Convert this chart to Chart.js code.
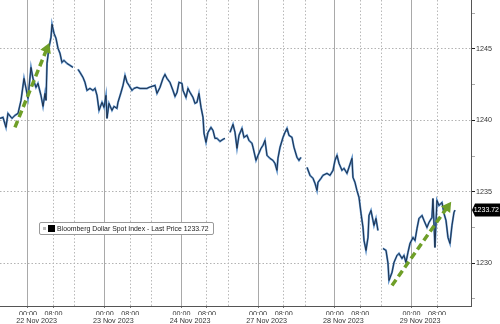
<!DOCTYPE html>
<html>
<head>
<meta charset="utf-8">
<script src="https://cdn.jsdelivr.net/npm/chart.js@4.4.1/dist/chart.umd.min.js"></script>
<style>
  html, body { margin: 0; padding: 0; background: #ffffff; }
  #wrap { position: relative; width: 500px; height: 324px; }
  #legend {
    position: absolute; left: 39px; top: 222px; width: 175px; height: 13px;
    border: 1px solid #9a9a9a; border-radius: 2px; background: #ffffff;
    font-family: "Liberation Sans", Arial, sans-serif; font-size: 6.9px; color: #222;
    line-height: 12px; white-space: nowrap; box-sizing: border-box;
  }
  #legend .g { position: absolute; left: 3px; top: 4px; width: 3px; height: 3px; background: #b8b8b8; }
  #legend .b { position: absolute; left: 8px; top: 2px; width: 7px; height: 7px; background: #000; }
  #legend .t { position: absolute; left: 17px; top: 0px; }
</style>
</head>
<body>
<div id="wrap">
  <canvas id="c" width="500" height="324"></canvas>
  <div id="legend"><span class="g"></span><span class="b"></span><span class="t" id="legendText"></span></div>
</div>
<script>
// ---- Data (x = trading-day index: 0=22 Nov, 1=23 Nov, 2=24 Nov, 3=27 Nov, 4=28 Nov, 5=29 Nov; fraction = time of day) ----
const dayLabels = ['22 Nov 2023', '23 Nov 2023', '24 Nov 2023', '27 Nov 2023', '28 Nov 2023', '29 Nov 2023'];
const hourTickLabels = ['00:00', '08:00'];
const hourTickHours = [0, 8];
const sessionBreakHour = 14.7;
const yTickLabels = ['1230', '1235', '1240', '1245'];
const seriesName = 'Bloomberg Dollar Spot Index - Last Price';
const lastPrice = 1233.72;

const seriesX = [
  -0.365,-0.326,-0.287,-0.261,-0.209,-0.169,-0.130,-0.091,-0.052,-0.026,0.000,0.039,0.065,0.104,0.130,0.169,0.196,0.222,0.235,0.248,
  0.274,0.300,0.313,0.339,0.365,0.391,0.417,0.443,0.469,0.508,0.548,0.587,0.620,0.652,0.678,0.717,0.743,0.769,0.808,0.847,
  0.874,0.900,0.926,0.965,0.991,1.017,1.030,1.056,1.095,1.121,1.160,1.173,1.213,1.239,1.265,1.291,1.317,1.356,1.382,1.421,
  1.460,1.499,1.551,1.578,1.617,1.656,1.682,1.721,1.760,1.786,1.812,1.851,1.890,1.917,1.943,1.969,2.008,2.021,2.060,2.086,
  2.112,2.151,2.177,2.203,2.229,2.256,2.282,2.295,2.321,2.347,2.386,2.412,2.438,2.464,2.503,2.542,2.568,2.600,2.634,2.673,
  2.699,2.725,2.751,2.790,2.816,2.855,2.881,2.920,2.934,2.973,2.999,3.038,3.064,3.090,3.116,3.155,3.194,3.220,3.246,3.259,
  3.286,3.325,3.351,3.377,3.403,3.442,3.468,3.507,3.533,3.559,3.600,3.638,3.677,3.716,3.742,3.768,3.781,3.820,3.846,3.898,
  3.938,3.977,4.003,4.029,4.055,4.094,4.120,4.159,4.185,4.224,4.237,4.263,4.289,4.316,4.342,4.368,4.381,4.407,4.433,4.446,
  4.472,4.498,4.511,4.537,4.563,4.600,4.628,4.668,4.694,4.707,4.746,4.772,4.811,4.837,4.876,4.902,4.928,4.954,4.981,5.020,
  5.046,5.072,5.098,5.137,5.163,5.202,5.228,5.267,5.280,5.306,5.332,5.358,5.398,5.424,5.450,5.476,5.502,5.528,5.554,5.567
];
const seriesY = [
  1240.14,1240.21,1239.51,1240.49,1240.14,1240.35,1240.49,1241.40,1242.94,1242.24,1241.54,1243.71,1242.94,1242.31,1242.59,1241.75,1240.98,1241.89,1241.40,1243.99,
  1245.12,1245.82,1246.73,1246.10,1245.75,1245.05,1244.70,1244.06,1244.20,1243.99,1243.85,1243.71,null,1243.57,1243.36,1243.01,1242.66,1242.10,1242.24,1242.10,
  1242.24,1241.75,1240.70,1241.26,1240.91,1241.75,1240.14,1241.19,1240.70,1240.98,1240.84,1241.26,1241.96,1242.45,1243.15,1242.66,1242.45,1242.10,1242.24,1242.31,
  1242.24,1242.24,1242.24,1242.31,1242.38,1242.45,1241.89,1242.31,1242.94,1243.22,1242.94,1242.66,1242.10,1241.68,1241.96,1242.66,1242.59,1242.10,1241.61,1242.24,
  1241.96,1241.61,1241.19,1241.26,1241.89,1240.91,1240.21,1239.09,1238.46,1239.16,1239.51,1239.30,1238.74,1238.74,1238.53,1238.67,1238.74,null,1239.16,1239.72,
  1239.16,1238.04,1238.95,1239.44,1238.81,1238.95,1238.60,1238.39,1238.11,1237.20,1237.55,1238.04,1238.25,1238.60,1237.55,1237.34,1237.20,1236.99,1236.50,1237.34,
  1238.11,1238.81,1239.16,1239.44,1238.95,1238.81,1238.11,1237.41,1237.20,1237.41,null,1236.71,1236.15,1235.94,1235.59,1235.09,1235.66,1235.94,1236.15,1236.29,
  1236.15,1236.50,1237.20,1237.55,1236.99,1236.50,1236.64,1236.29,1236.71,1237.34,1236.01,1235.66,1235.09,1234.60,1233.48,1232.50,1231.59,1230.89,1231.80,1233.34,
  1233.69,1232.99,1232.64,1233.13,1232.29,null,1231.03,1230.89,1229.98,1228.79,1229.35,1230.05,1230.54,1230.68,1230.33,1230.54,1230.05,1230.75,1231.38,1231.80,
  1231.59,1232.43,1233.13,1233.34,1232.99,1232.50,1232.85,1233.20,1234.53,1231.10,1234.39,1234.04,1234.25,1233.48,1232.99,1231.80,1231.38,1232.64,1233.55,1233.72
];

// Green trend arrows (start, end)
const arrow1X = [-0.170, 0.245];
const arrow1Y = [1239.51, 1245.00];
const arrow2X = [4.746, 5.469];
const arrow2Y = [1228.44, 1233.93];

// ---- Build ----
document.getElementById('legendText').textContent = seriesName + '  ' + lastPrice.toFixed(2);

const seriesData = seriesX.map((x, i) => ({ x: x, y: seriesY[i] }));
const arrow1 = arrow1X.map((x, i) => ({ x: x, y: arrow1Y[i] }));
const arrow2 = arrow2X.map((x, i) => ({ x: x, y: arrow2Y[i] }));

const hourTicks = [];
dayLabels.forEach((d, di) => hourTickHours.forEach((h, hi) => hourTicks.push({ value: di + h / 24, label: hourTickLabels[hi], major: h === 0 })));
const dottedTicks = [];
dayLabels.forEach((d, di) => {
  dottedTicks.push({ value: di + 8 / 24 });
  if (di < dayLabels.length - 1) dottedTicks.push({ value: di + sessionBreakHour / 24 });
});
const dayCenterTicks = dayLabels.map((d, di) => ({ value: di + (sessionBreakHour - 12) / 24, label: d }));
const yTicks = [];
for (let v = 1227.5; v <= 1247.5; v += 2.5) yTicks.push({ value: v, major: v % 5 === 0 });

const GREEN = '#6f9f28';
function arrowRotation(ctx) {
  const ch = ctx.chart, ds = ch.data.datasets[ctx.datasetIndex].data;
  const sx = ch.scales.x, sy = ch.scales.y;
  if (!sx || !sy) return 0;
  const dx = sx.getPixelForValue(ds[1].x) - sx.getPixelForValue(ds[0].x);
  const dy = sy.getPixelForValue(ds[1].y) - sy.getPixelForValue(ds[0].y);
  return Math.atan2(dx, -dy) * 180 / Math.PI;
}
function arrowDataset(data) {
  return {
    data: data, borderColor: GREEN, backgroundColor: GREEN, borderWidth: 3.5,
    borderDash: [7, 4], pointStyle: 'triangle',
    pointRadius: (c) => c.dataIndex === 1 ? 6.5 : 0,
    pointBorderWidth: 0, pointRotation: arrowRotation, order: 0
  };
}

const priceTag = {
  id: 'priceTag',
  afterDraw(chart) {
    const { ctx, chartArea, scales } = chart;
    const y = scales.y.getPixelForValue(lastPrice);
    const x0 = chartArea.right + 1;
    ctx.save();
    ctx.fillStyle = '#000';
    ctx.beginPath();
    ctx.moveTo(x0, y);
    ctx.lineTo(x0 + 3, y - 6.5);
    ctx.lineTo(500, y - 6.5);
    ctx.lineTo(500, y + 6.5);
    ctx.lineTo(x0 + 3, y + 6.5);
    ctx.closePath();
    ctx.fill();
    ctx.fillStyle = '#fff';
    ctx.font = '7px "Liberation Sans", Arial, sans-serif';
    ctx.textBaseline = 'middle';
    ctx.textAlign = 'right';
    ctx.fillText(lastPrice.toFixed(2), 499, y + 0.5);
    ctx.restore();
  }
};

const FONT = { family: '"Liberation Sans", Arial, sans-serif', size: 7.2 };

new Chart(document.getElementById('c'), {
  type: 'line',
  data: {
    datasets: [
      arrowDataset(arrow1),
      arrowDataset(arrow2),
      { data: seriesData, borderColor: '#16273f', borderWidth: 0.9, pointRadius: 0, spanGaps: false, tension: 0, order: 1 },
      { data: seriesData, borderColor: '#5a8fc8', borderWidth: 2, pointRadius: 0, spanGaps: false, tension: 0, order: 2 }
    ]
  },
  options: {
    responsive: false, animation: false, devicePixelRatio: 1,
    layout: { padding: 0, autoPadding: false },
    plugins: { legend: { display: false }, tooltip: { enabled: false } },
    scales: {
      x: {
        type: 'linear', position: 'bottom', weight: 0,
        min: -0.365, max: 5.776,
        afterBuildTicks: (s) => { s.ticks = hourTicks.map(t => ({ value: t.value })); },
        afterFit: (s) => { s.height = 9; s.paddingLeft = 0; s.paddingRight = 0; },
        ticks: {
          autoSkip: false, maxRotation: 0, minRotation: 0, padding: 2, color: '#333', font: FONT,
          callback: (v, i) => hourTicks[i] ? hourTicks[i].label : ''
        },
        grid: {
          color: (c) => (c.tick && hourTicks.find(t => Math.abs(t.value - c.tick.value) < 1e-6 && t.major)) ? '#a9a9a9' : 'rgba(0,0,0,0)',
          lineWidth: 1, tickLength: 2, tickColor: '#777'
        },
        border: { display: true, color: '#555', width: 1 }
      },
      xg: {
        type: 'linear', position: 'bottom', weight: 2,
        min: -0.365, max: 5.776,
        afterBuildTicks: (s) => { s.ticks = dottedTicks.map(t => ({ value: t.value })); },
        afterFit: (s) => { s.height = 0; s.paddingLeft = 0; s.paddingRight = 0; },
        ticks: { display: false },
        grid: { color: '#b9b9b9', lineWidth: 1, drawTicks: false },
        border: { display: false, dash: [1.5, 2] }
      },
      xd: {
        type: 'linear', position: 'bottom', weight: 1,
        min: -0.365, max: 5.776,
        afterBuildTicks: (s) => { s.ticks = dayCenterTicks.map(t => ({ value: t.value })); },
        afterFit: (s) => { s.height = 9; s.paddingLeft = 0; s.paddingRight = 0; },
        ticks: {
          autoSkip: false, maxRotation: 0, minRotation: 0, padding: 2, color: '#333', font: FONT,
          callback: (v, i) => dayCenterTicks[i] ? dayCenterTicks[i].label : ''
        },
        grid: { display: false, drawTicks: false },
        border: { display: false }
      },
      y: {
        type: 'linear', position: 'right',
        min: 1227.0, max: 1248.43,
        afterBuildTicks: (s) => { s.ticks = yTicks.map(t => ({ value: t.value })); },
        afterFit: (s) => { s.width = 29; s.paddingTop = 0; s.paddingBottom = 0; },
        ticks: {
          padding: 1, color: '#333', font: FONT,
          callback: (v) => { const lbl = yTickLabels.find(l => Math.abs(+l - v) < 1e-6); return lbl || ''; }
        },
        grid: {
          color: (c) => (c.tick && Math.abs(c.tick.value % 5) < 1e-6) ? '#b3b3b3' : 'rgba(0,0,0,0)',
          lineWidth: 1, tickLength: 4,
          tickColor: (c) => (c.tick && Math.abs(c.tick.value % 5) < 1e-6) ? '#222' : '#aaa'
        },
        border: { display: true, color: '#555', width: 1, dash: [1.5, 2] }
      }
    }
  },
  plugins: [priceTag]
});
</script>
</body>
</html>
